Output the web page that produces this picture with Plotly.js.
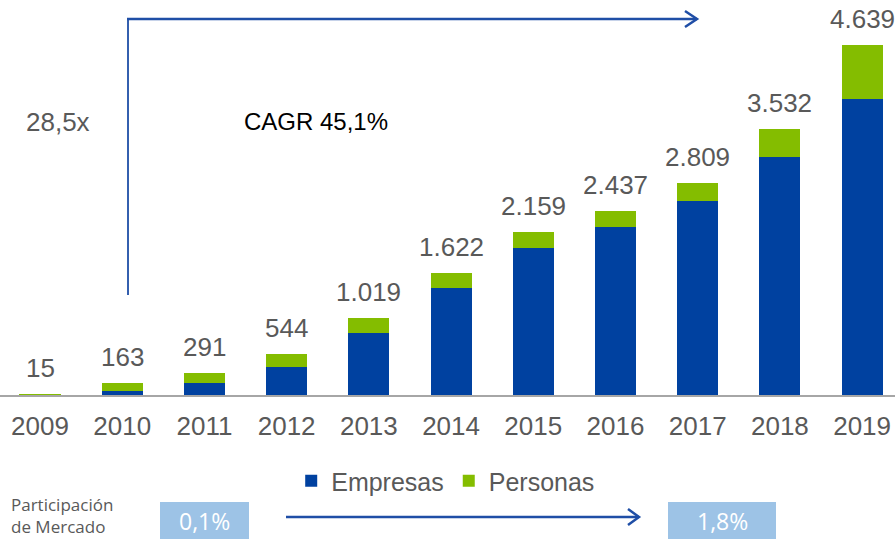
<!DOCTYPE html>
<html>
<head>
<meta charset="utf-8">
<script src="https://cdn.plot.ly/plotly-3.0.1.min.js"></script>
<style>html,body{margin:0;padding:0;background:#fff;}#chart{width:895px;height:539px;}</style>
</head>
<body>
<div id="chart"></div>
<script>
const years = ['2009','2010','2011','2012','2013','2014','2015','2016','2017','2018','2019'];
const empresas = [0, 49, 159, 375, 826, 1414, 1953, 2222, 2575, 3159, 3927];
const personas = [15, 114, 132, 169, 193, 208, 206, 215, 234, 373, 712];
const totalLabels = ['15','163','291','544','1.019','1.622','2.159','2.437','2.809','3.532','4.639'];
const totals = empresas.map((v, i) => v + personas[i]);

const BLUE = '#0041A0';
const GREEN = '#84BD00';
const GRAY = '#595959';
const ARROW = '#1F4EA6';
const FONT = 'Liberation Sans, Arial, sans-serif';
const SOFT = 'Open Sans, sans-serif';

// pixel -> paper helpers (plot area: x 0..895, y 0..395)
const W = 895, H = 395;
const px = x => x / W;
const py = y => (H - y) / H;

const traces = [
  {type: 'bar', name: 'Empresas', x: years, y: empresas, marker: {color: BLUE}, hoverinfo: 'skip'},
  {type: 'bar', name: 'Personas', x: years, y: personas, marker: {color: GREEN}, hoverinfo: 'skip'}
];

function pathP(pts) {
  return pts.map((p, i) => (i ? 'L' : 'M') + px(p[0]).toFixed(5) + ',' + py(p[1]).toFixed(5)).join(' ');
}

const shapes = [
  // top elbow arrow
  {type: 'path', xref: 'paper', yref: 'paper', path: pathP([[128, 295], [128, 19]]), line: {color: ARROW, width: 1.8}},
  {type: 'path', xref: 'paper', yref: 'paper', path: pathP([[127, 19], [697, 19]]), line: {color: ARROW, width: 2.5}},
  {type: 'path', xref: 'paper', yref: 'paper', path: pathP([[685, 11], [697, 19], [685, 27]]), line: {color: ARROW, width: 2.5}},
  // bottom boxes
  {type: 'rect', xref: 'paper', yref: 'paper', x0: px(160), x1: px(249), y0: py(502), y1: py(540), fillcolor: '#9DC3E6', line: {width: 0}, layer: 'below'},
  {type: 'rect', xref: 'paper', yref: 'paper', x0: px(668), x1: px(776), y0: py(502), y1: py(540), fillcolor: '#9DC3E6', line: {width: 0}, layer: 'below'},
  // bottom arrow
  {type: 'path', xref: 'paper', yref: 'paper', path: pathP([[286, 517], [639, 517]]), line: {color: ARROW, width: 2.5}},
  {type: 'path', xref: 'paper', yref: 'paper', path: pathP([[628, 509], [639, 517], [628, 525]]), line: {color: ARROW, width: 2.5}}
];

const annotations = [
  {xref: 'paper', yref: 'paper', x: px(24), y: py(122), xanchor: 'left', yanchor: 'middle', showarrow: false,
   text: '28,5x', font: {family: FONT, size: 26, color: GRAY}},
  {xref: 'paper', yref: 'paper', x: px(242), y: py(122), xanchor: 'left', yanchor: 'middle', showarrow: false,
   text: 'CAGR 45,1%', font: {family: FONT, size: 24, color: '#000000'}},
  {xref: 'paper', yref: 'paper', x: px(9), y: py(515), xanchor: 'left', yanchor: 'middle', showarrow: false, align: 'left',
   text: 'Participación<br>de Mercado', font: {family: SOFT, size: 17, color: GRAY}},
  {xref: 'paper', yref: 'paper', x: px(204.5), y: py(521), xanchor: 'center', yanchor: 'middle', showarrow: false,
   text: '0,1%', font: {family: SOFT, size: 23, color: '#FFFFFF'}},
  {xref: 'paper', yref: 'paper', x: px(722), y: py(521), xanchor: 'center', yanchor: 'middle', showarrow: false,
   text: '1,8%', font: {family: SOFT, size: 23, color: '#FFFFFF'}}
];

// total labels above each stacked bar (x given as category index)
years.forEach((yr, i) => {
  annotations.push({x: i, y: totals[i], xref: 'x', yref: 'y', xanchor: 'center', yanchor: 'bottom',
    yshift: 9, showarrow: false, text: totalLabels[i], font: {family: FONT, size: 26, color: GRAY}});
});

const layout = {
  width: 895, height: 539,
  margin: {l: 0, r: 0, t: 0, b: 144, pad: 0},
  paper_bgcolor: '#FFFFFF', plot_bgcolor: '#FFFFFF',
  barmode: 'stack', bargap: 0.5,
  showlegend: true,
  legend: {orientation: 'h', x: 0.498, xanchor: 'center', y: py(481), yanchor: 'middle',
           font: {family: FONT, size: 25, color: GRAY}, traceorder: 'normal', itemwidth: 30},
  xaxis: {type: 'category', range: [-0.487, 10.40], showgrid: false, zeroline: false,
          showline: true, linecolor: '#A6A6A6', linewidth: 1.5, ticks: '', ticklabelstandoff: 7,
          tickfont: {family: FONT, size: 26, color: GRAY}, fixedrange: true},
  yaxis: {visible: false, range: [0, 5235], showgrid: false, zeroline: false, fixedrange: true},
  shapes: shapes,
  annotations: annotations
};

Plotly.newPlot('chart', traces, layout, {displayModeBar: false, staticPlot: true});
</script>
</body>
</html>
